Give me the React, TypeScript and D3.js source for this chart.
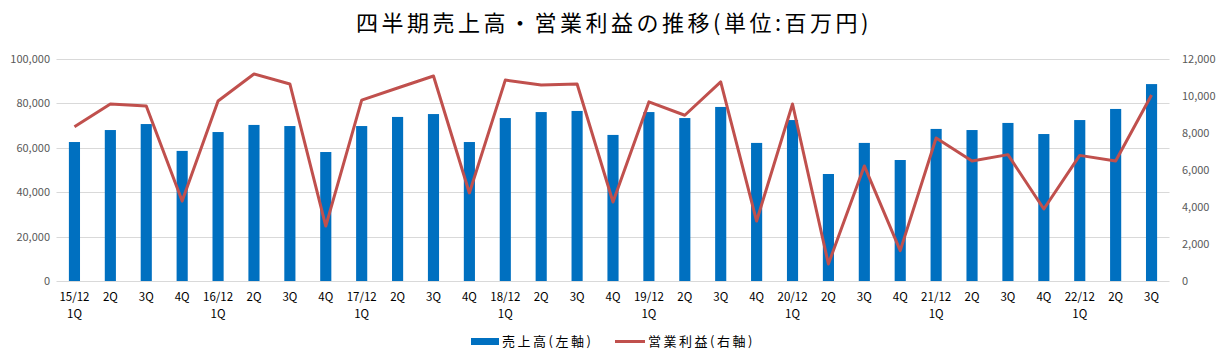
import { useEffect, useRef } from 'react';
import * as d3 from 'd3';

// quarter labels: first line / second line
const quarters = [
  '15/12', '2Q', '3Q', '4Q', '16/12', '2Q', '3Q', '4Q',
  '17/12', '2Q', '3Q', '4Q', '18/12', '2Q', '3Q', '4Q',
  '19/12', '2Q', '3Q', '4Q', '20/12', '2Q', '3Q', '4Q',
  '21/12', '2Q', '3Q', '4Q', '22/12', '2Q', '3Q',
];
// 売上高 (left axis)
const sales = [
  62600, 68000, 70700, 58600, 67100, 70300, 69800, 58100,
  69800, 73900, 75200, 62600, 73400, 76100, 76600, 65800,
  76100, 73400, 78400, 62200, 72500, 48200, 62200, 54500,
  68500, 68000, 71200, 66200, 72500, 77500, 88700,
];
// 営業利益 (right axis)
const profit = [
  8340, 9570, 9460, 4320, 9730, 11190, 10650, 2970,
  9780, 10430, 11080, 4760, 10860, 10590, 10650, 4270,
  9680, 8960, 10760, 3240, 9570, 920, 6220, 1640,
  7730, 6490, 6830, 3890, 6790, 6490, 10050,
];
const leftTicks = [0, 20000, 40000, 60000, 80000, 100000];
const rightTicks = [0, 2000, 4000, 6000, 8000, 10000, 12000];

const W = 1227;
const H = 361;
const FONT = '"Noto Sans CJK JP", "Noto Sans", sans-serif';

function App() {
  const ref = useRef<SVGSVGElement>(null);

  useEffect(() => {
    const svg = d3.select(ref.current);
    svg.selectAll('*').remove();

    const left = 56.5, right = 1169.5, top = 59, bottom = 281;
    const ids = quarters.map((_, i) => i);
    const x = d3.scaleBand<number>().domain(ids).range([left, right]).paddingInner(0.69).paddingOuter(0.345);
    const yL = d3.scaleLinear().domain([0, 100000]).range([bottom, top]);
    const yR = d3.scaleLinear().domain([0, 12000]).range([bottom, top]);
    const fmt = d3.format(',');

    // title
    svg.append('text')
      .attr('x', 614).attr('y', 31)
      .attr('text-anchor', 'middle')
      .style('font-family', FONT).style('font-size', '22px').style('letter-spacing', '3.5px')
      .attr('fill', '#000')
      .text('四半期売上高・営業利益の推移(単位:百万円)');

    // gridlines
    svg.append('g').selectAll('line').data(leftTicks).join('line')
      .attr('x1', left).attr('x2', right)
      .attr('y1', (d) => Math.round(yL(d)) + 0.5).attr('y2', (d) => Math.round(yL(d)) + 0.5)
      .attr('stroke', '#d9d9d9').attr('stroke-width', 1);

    // left axis labels
    svg.append('g').selectAll('text').data(leftTicks).join('text')
      .attr('x', 50).attr('y', (d) => yL(d) + 4)
      .attr('text-anchor', 'end')
      .style('font-family', FONT).style('font-size', '11px').attr('fill', '#595959')
      .text((d) => fmt(d));

    // right axis labels
    svg.append('g').selectAll('text').data(rightTicks).join('text')
      .attr('x', 1182).attr('y', (d) => yR(d) + 4)
      .attr('text-anchor', 'start')
      .style('font-family', FONT).style('font-size', '11px').attr('fill', '#595959')
      .text((d) => fmt(d));

    // bars
    svg.append('g').selectAll('rect').data(sales).join('rect')
      .attr('x', (_, i) => x(i)!)
      .attr('width', x.bandwidth())
      .attr('y', (d) => yL(d))
      .attr('height', (d) => bottom - yL(d))
      .attr('fill', '#0070c0');

    // line
    const line = d3.line<number>()
      .x((_, i) => x(i)! + x.bandwidth() / 2)
      .y((d) => yR(d));
    svg.append('path').datum(profit)
      .attr('d', line)
      .attr('fill', 'none')
      .attr('stroke', '#c0504d')
      .attr('stroke-width', 3)
      .attr('stroke-linejoin', 'round');

    // x labels
    const xl = svg.append('g').selectAll('g').data(quarters).join('g')
      .attr('transform', (_, i) => `translate(${x(i)! + x.bandwidth() / 2},0)`);
    xl.append('text')
      .attr('y', 301).attr('text-anchor', 'middle')
      .style('font-family', FONT).style('font-size', '11.5px').attr('fill', '#000')
      .text((d) => d);
    xl.filter((d) => d.includes('/')).append('text')
      .attr('y', 318).attr('text-anchor', 'middle')
      .style('font-family', FONT).style('font-size', '11.5px').attr('fill', '#000')
      .text('1Q');

    // legend
    const lg = svg.append('g');
    lg.append('rect').attr('x', 471).attr('y', 338).attr('width', 28).attr('height', 7).attr('fill', '#0070c0');
    lg.append('text').attr('x', 502).attr('y', 346)
      .style('font-family', FONT).style('font-size', '13px').style('letter-spacing', '2.5px')
      .attr('fill', '#000')
      .text('売上高(左軸)');
    lg.append('line').attr('x1', 615).attr('x2', 645).attr('y1', 341.5).attr('y2', 341.5)
      .attr('stroke', '#c0504d').attr('stroke-width', 3);
    lg.append('text').attr('x', 648).attr('y', 346)
      .style('font-family', FONT).style('font-size', '13px').style('letter-spacing', '2.5px')
      .attr('fill', '#000')
      .text('営業利益(右軸)');
  }, []);

  return (
    <svg ref={ref} width={W} height={H}
      style={{ position: 'absolute', left: 0, top: 0, background: '#fff' }} />
  );
}

export default App;
